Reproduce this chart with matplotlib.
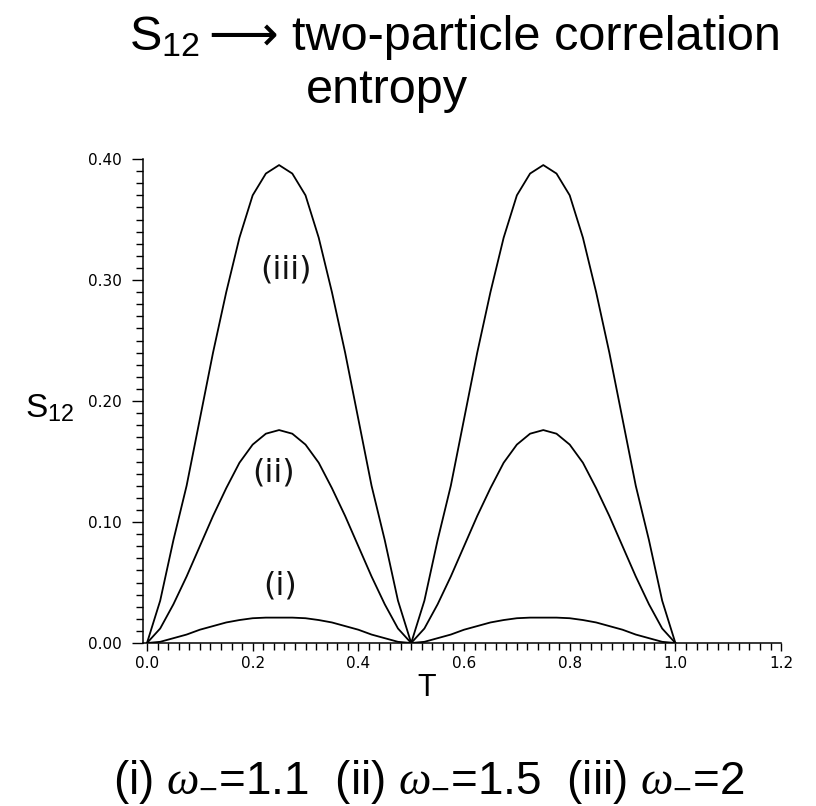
import numpy as np
import matplotlib
matplotlib.use('Agg')
import matplotlib.pyplot as plt
from matplotlib.ticker import MultipleLocator, FixedLocator

plt.rcParams['font.family'] = ['Liberation Sans', 'DejaVu Sans']
plt.rcParams['mathtext.fontset'] = 'custom'
plt.rcParams['mathtext.rm'] = 'Liberation Sans'
plt.rcParams['mathtext.it'] = 'Liberation Serif:italic'
plt.rcParams['mathtext.fallback'] = 'stixsans'

# values, T step 0.025 from 0 to 1
T = np.linspace(0.0, 1.0, 41)
S_iii = [0.000, 0.035, 0.085, 0.130, 0.185, 0.240, 0.290, 0.335, 0.370, 0.388,
         0.395, 0.388, 0.370, 0.335, 0.290, 0.240, 0.185, 0.130, 0.085, 0.035,
         0.000, 0.035, 0.085, 0.130, 0.185, 0.240, 0.290, 0.335, 0.370, 0.388,
         0.395, 0.388, 0.370, 0.335, 0.290, 0.240, 0.185, 0.130, 0.085, 0.035,
         0.000]
S_ii = [0.000, 0.012, 0.032, 0.055, 0.080, 0.105, 0.128, 0.149, 0.164, 0.173,
        0.176, 0.173, 0.164, 0.149, 0.128, 0.105, 0.080, 0.055, 0.032, 0.012,
        0.000, 0.012, 0.032, 0.055, 0.080, 0.105, 0.128, 0.149, 0.164, 0.173,
        0.176, 0.173, 0.164, 0.149, 0.128, 0.105, 0.080, 0.055, 0.032, 0.012,
        0.000]
S_i = [0.000, 0.001, 0.004, 0.007, 0.011, 0.014, 0.017, 0.019, 0.0205, 0.021,
       0.021, 0.021, 0.0205, 0.019, 0.017, 0.014, 0.011, 0.007, 0.004, 0.001,
       0.000, 0.001, 0.004, 0.007, 0.011, 0.014, 0.017, 0.019, 0.0205, 0.021,
       0.021, 0.021, 0.0205, 0.019, 0.017, 0.014, 0.011, 0.007, 0.004, 0.001,
       0.000]
curve_labels = ['(i)', '(ii)', '(iii)']
label_pos = [(0.252, 0.047), (0.239, 0.1405), (0.263, 0.308)]
yticks = [0.0, 0.1, 0.2, 0.3, 0.4]
ytick_labels = ['0.00', '0.10', '0.20', '0.30', '0.40']
xticks = [0.0, 0.2, 0.4, 0.6, 0.8, 1.0, 1.2]
xtick_labels = ['0.0', '0.2', '0.4', '0.6', '0.8', '1.0', '1.2']

W, H = 816, 806
fig = plt.figure(figsize=(W / 100, H / 100), dpi=100)
ax = fig.add_axes([0.1752, 0.2022, 0.782, 0.6005])

for s in (S_i, S_ii, S_iii):
    ax.plot(T, s, color='black', lw=1.3)

for lab, (x, y) in zip(curve_labels, label_pos):
    ax.text(x, y, lab, fontsize=23, family='DejaVu Sans', ha='center', va='center', color='#111111')

ax.set_xlim(-0.0076, 1.2)
ax.set_ylim(0, 0.4)
for side in ['top', 'right']:
    ax.spines[side].set_visible(False)
for side in ['left', 'bottom']:
    ax.spines[side].set_linewidth(1.1)

ax.yaxis.set_major_locator(FixedLocator(yticks))
ax.set_yticklabels(ytick_labels, family='DejaVu Sans', fontsize=11)
ax.yaxis.set_minor_locator(MultipleLocator(0.01))
ax.xaxis.set_major_locator(FixedLocator(xticks))
ax.set_xticklabels(xtick_labels, family='DejaVu Sans', fontsize=11)
ax.xaxis.set_minor_locator(MultipleLocator(0.02))
ax.tick_params(axis='y', which='major', length=8, width=1.0, direction='out', pad=7)
ax.tick_params(axis='y', which='minor', length=5, width=1.0, direction='out')
ax.tick_params(axis='x', which='major', length=6, width=1.0, direction='out')
ax.tick_params(axis='x', which='minor', length=5, width=1.0, direction='out')

# title, built from pieces so the arrow can come from DejaVu Sans
fig.text(129 / W, 1 - 50 / H, r'S$_{12}$', fontsize=35, ha='left', va='baseline')
fig.text(243 / W, 1 - 50 / H, '⟶', fontsize=35, family='DejaVu Sans', ha='center', va='baseline')
fig.text(292 / W, 1 - 50 / H, 'two-particle correlation', fontsize=35, ha='left', va='baseline')
fig.text(306 / W, 1 - 103 / H, 'entropy', fontsize=35, ha='left', va='baseline')

# axis labels
fig.text(25 / W, 1 - 417 / H, r'S$_{12}$', fontsize=24, ha='left', va='baseline')
fig.text(427 / W, 1 - 696 / H, 'T', fontsize=22, ha='center', va='baseline')

fig.text(429 / W, 1 - 794 / H,
         r'(i) $\omega_{-}$=1.1  (ii) $\omega_{-}$=1.5  (iii) $\omega_{-}$=2',
         fontsize=33, ha='center', va='baseline')

fig.savefig('out.png', dpi=100)
